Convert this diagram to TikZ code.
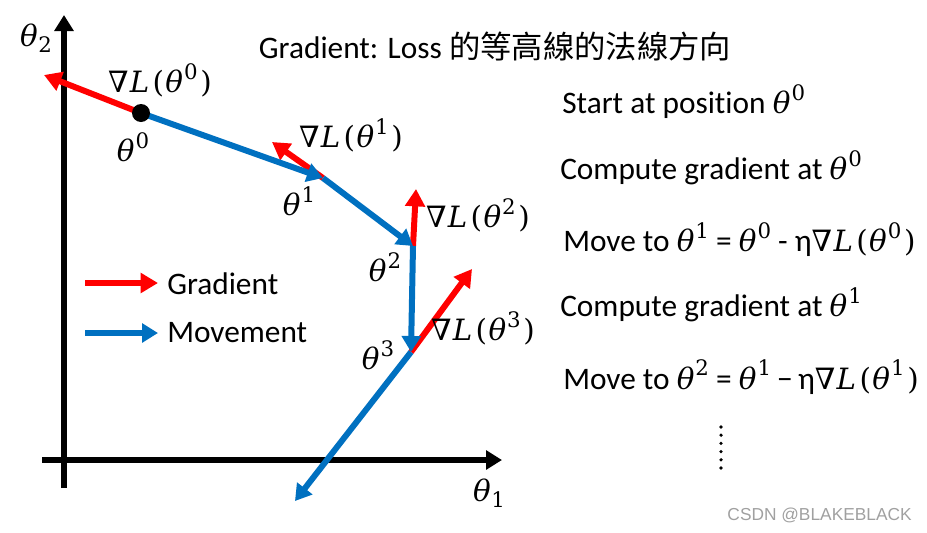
\documentclass[tikz,border=0pt]{standalone}
\usepackage{fontspec}
\setmainfont{Carlito}[Ligatures=NoCommon]
\newfontfamily\cjk{Noto Sans CJK TC}
\newfontfamily\wm{Liberation Sans}
\newfontfamily\mf{DejaVu Serif}
\usetikzlibrary{arrows.meta}
\definecolor{gred}{HTML}{FF0000}
\definecolor{mblue}{HTML}{0070C0}
\definecolor{wmgray}{HTML}{A0A0A0}
\newcommand\mz{\fontsize{22}{26}\selectfont}
\newcommand\thsup[1]{{\mf\mz\itshape θ\kern0.8pt\raisebox{0.45em}{\fontsize{16}{16}\selectfont\upshape #1}}}
\newcommand\thsub[1]{{\mf\mz\itshape θ\kern0.5pt\raisebox{-0.22em}{\fontsize{16}{16}\selectfont\upshape #1}}}
\newcommand\gradL[1]{{\mf\mz\itshape ∇\kern1pt L\kern2.5pt\upshape(\kern1pt\thsup{#1}\kern2pt)}}
\begin{document}
\begin{tikzpicture}[x=0.75pt,y=-0.75pt,
  axis/.style={line width=4.5pt,-{Triangle[length=12pt,width=14pt]}},
  grad/.style={gred,line width=4.5pt,-{Triangle[length=13pt,width=14.5pt]}},
  move/.style={mblue,line width=4.5pt,-{Triangle[length=12pt,width=14pt]}},
  lbl/.style={inner sep=0pt},
  txt/.style={font=\fontsize{23.5}{28}\selectfont,inner sep=0pt,anchor=west}]
\useasboundingbox (0,0) rectangle (927,532);
% axes
\coordinate (ybot) at (64,488);
\coordinate (ytop) at (64,15);
\coordinate (xl) at (42,460);
\coordinate (xr) at (502,460);
\draw[axis] (ybot) -- (ytop);
\draw[axis] (xl) -- (xr);
\node[lbl] (t2) at (36,38) {\thsub{2}};
\node[lbl] (t1) at (489,493) {\thsub{1}};
% points
\coordinate (p0) at (141,113);
\coordinate (p1) at (323,178);
\coordinate (p2) at (413,246);
\coordinate (p3) at (411,352);
\coordinate (p4) at (295,501);
\coordinate (g0) at (44,75);
\coordinate (g1) at (272,142);
\coordinate (g2) at (416,189);
\coordinate (g3) at (472,269);
% gradients
\draw[grad] (p0) -- (g0);
\draw[grad] (p1) -- (g1);
\draw[grad] (p2) -- (g2);
\draw[grad] (p3) -- (g3);
% movements
\draw[move] (p0) -- (p1);
\draw[move] (p1) -- (p2);
\draw[move] (p2) -- (p3);
\draw[move] (p3) -- (p4);
\fill[black] (p0) circle[radius=9];
% labels
\node[lbl] (lg0) at (160,80) {\gradL{0}};
\node[lbl] (l0) at (133,147) {\thsup{0}};
\node[lbl] (lg1) at (351,135) {\gradL{1}};
\node[lbl] (l1) at (299,201) {\thsup{1}};
\node[lbl] (lg2) at (478,215) {\gradL{2}};
\node[lbl] (l2) at (385,267) {\thsup{2}};
\node[lbl] (lg3) at (483,328) {\gradL{3}};
\node[lbl] (l3) at (378,355) {\thsup{3}};
% legend
\coordinate (la1) at (85,283);
\coordinate (la2) at (158,283);
\coordinate (lb1) at (85,333);
\coordinate (lb2) at (158,333);
\draw[grad] (la1) -- (la2);
\draw[move] (lb1) -- (lb2);
\node[txt] (lgg) at (167,284) {Gradient};
\node[txt] (lgm) at (167,333) {Movement};
% title
\node[txt,anchor=center] (title) at (495,46) {Gradient: Loss {\cjk 的等高線的法線方向}};
% steps
\node[txt] (s1) at (562,102) {Start at position \thsup{0}};
\node[txt] (s2) at (560,168) {Compute gradient at \thsup{0}};
\node[txt] (s3) at (563,240) {Move to \thsup{1} = \thsup{0} - η\gradL{0}};
\node[txt] (s4) at (560,305) {Compute gradient at \thsup{1}};
\node[txt] (s5) at (563,377) {Move to \thsup{2} = \thsup{1}\kern4.5pt−\kern4pt η\gradL{1}};
% dots
\foreach \i in {0,...,5} \fill (721,{427+8.2*\i}) circle[radius=1.8];
% watermark
\node[inner sep=0pt,anchor=east,text=wmgray,font=\wm\fontsize{13}{15}\selectfont] (wmk) at (912,515) {CSDN @BLAKEBLACK};
\end{tikzpicture}
\end{document}
